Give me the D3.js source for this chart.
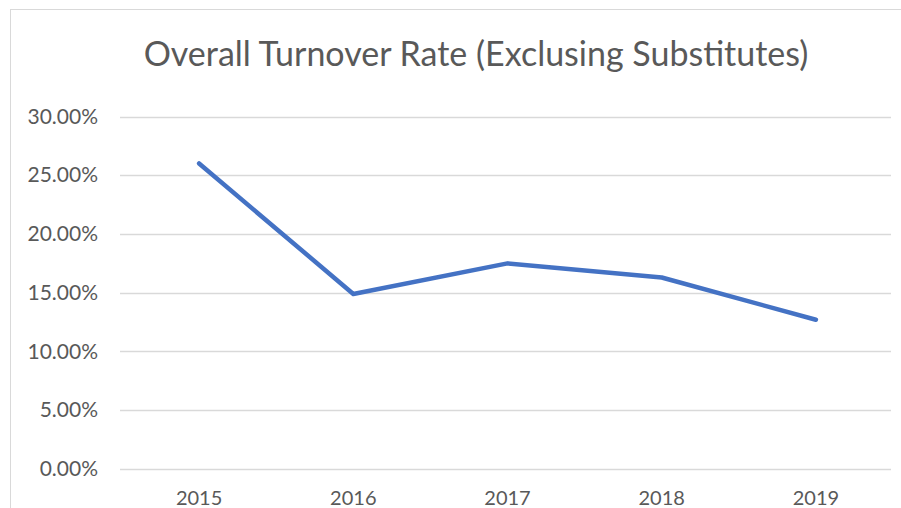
<!DOCTYPE html>
<html><head><meta charset="utf-8">
<script src="https://cdn.jsdelivr.net/npm/d3@7"></script>
<style>html,body{margin:0;padding:0;background:#fff;overflow:hidden}</style>
</head><body>
<script>
const years = ["2015","2016","2017","2018","2019"];
const turnover = [0.260, 0.149, 0.175, 0.163, 0.127];
const yTicks = [0, 0.05, 0.10, 0.15, 0.20, 0.25, 0.30];
const title = "Overall Turnover Rate (Exclusing Substitutes)";

const W = 901, H = 508;
const svg = d3.select("body").append("svg").attr("width", W).attr("height", H);
const font = "Lato, 'Open Sans', sans-serif";
const textColor = "#595959";

svg.append("rect").attr("x", 10.5).attr("y", 9.5).attr("width", 900).attr("height", 510)
  .attr("fill", "#fff").attr("stroke", "#d9d9d9").attr("stroke-width", 1);

const x = d3.scaleBand().domain(years).range([122, 893]);
const y = d3.scaleLinear().domain([0, 0.30]).range([469, 116.5]);

const gridX0 = 120, gridX1 = 891;
svg.append("g").selectAll("line").data(yTicks).join("line")
  .attr("x1", gridX0).attr("x2", gridX1)
  .attr("y1", d => Math.round(y(d)) + 0.5).attr("y2", d => Math.round(y(d)) + 0.5)
  .attr("stroke", "#d9d9d9").attr("stroke-width", 1.3);

const yAxis = d3.axisLeft(y).tickValues(yTicks).tickFormat(d3.format(".2%")).tickSize(0).tickPadding(0);
const gy = svg.append("g").attr("transform", "translate(98,0)").call(yAxis);
gy.select(".domain").remove();
gy.selectAll("text").attr("fill", textColor).style("font-family", font).style("font-size", "21px");

const xAxis = d3.axisBottom(x).tickSize(0).tickPadding(0);
const gx = svg.append("g").attr("transform", "translate(0,487)").call(xAxis);
gx.select(".domain").remove();
gx.selectAll("text").attr("fill", textColor).style("font-family", font).style("font-size", "20px").attr("dy", "0.9em");

const line = d3.line().x((d, i) => x(years[i]) + x.bandwidth() / 2).y(d => y(d));
svg.append("path").datum(turnover).attr("d", line)
  .attr("fill", "none").attr("stroke", "#4472C4").attr("stroke-width", 4.5)
  .attr("stroke-linecap", "round").attr("stroke-linejoin", "round");

svg.append("text").attr("x", 476).attr("y", 66).attr("text-anchor", "middle")
  .attr("fill", textColor).style("font-family", font).style("font-size", "34px").text(title);
</script>
</body></html>
